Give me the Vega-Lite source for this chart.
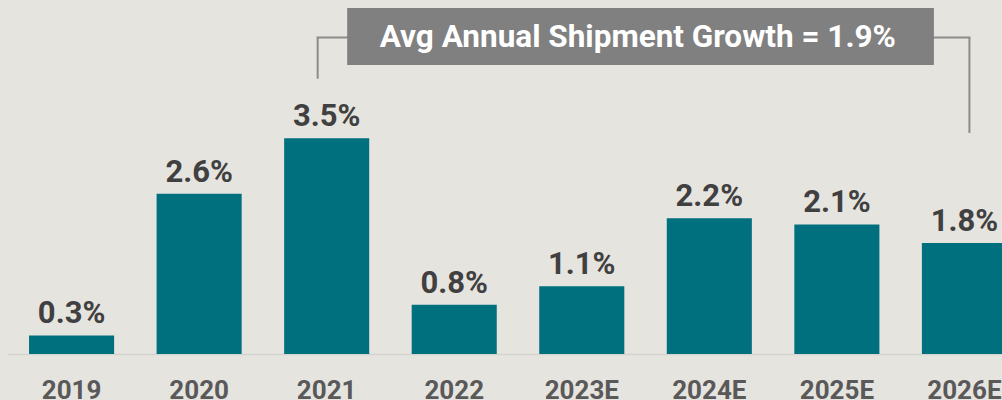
{
  "$schema": "https://vega.github.io/schema/vega-lite/v6.json",
  "width": 994,
  "height": 354,
  "autosize": "none",
  "padding": {"left": 8, "top": 0, "right": 0, "bottom": 46},
  "background": "#e6e4df",
  "config": {
    "view": {"stroke": null},
    "font": "Roboto",
    "text": {"font": "Roboto"}
  },
  "layer": [
    {
      "data": {"values": [
        {"year": "2019", "growth": 0.3, "label": "0.3%"},
        {"year": "2020", "growth": 2.6, "label": "2.6%"},
        {"year": "2021", "growth": 3.5, "label": "3.5%"},
        {"year": "2022", "growth": 0.8, "label": "0.8%"},
        {"year": "2023E", "growth": 1.1, "label": "1.1%"},
        {"year": "2024E", "growth": 2.2, "label": "2.2%"},
        {"year": "2025E", "growth": 2.1, "label": "2.1%"},
        {"year": "2026E", "growth": 1.8, "label": "1.8%"}
      ]},
      "layer": [
        {
          "mark": {"type": "bar", "color": "#00707f"},
          "encoding": {
            "x": {
              "field": "year", "type": "nominal", "sort": null, "title": null,
              "scale": {"range": [0, 1020], "paddingInner": 0.333, "paddingOuter": 0.165},
              "axis": {
                "labelAngle": 0, "ticks": false, "tickSize": 0, "labelPadding": 44,
                "labelBaseline": "alphabetic", "labelFontSize": 26, "labelFontWeight": "bold",
                "labelColor": "#595959", "labelFont": "Roboto",
                "domainColor": "#d6d4cf", "domainWidth": 1.5, "grid": false
              }
            },
            "y": {
              "field": "growth", "type": "quantitative",
              "scale": {"domain": [0, 5.74], "nice": false, "zero": true},
              "axis": null
            }
          }
        },
        {
          "mark": {"type": "text", "baseline": "alphabetic", "dy": -12, "fontSize": 31, "fontWeight": "bold", "color": "#404040", "font": "Roboto"},
          "encoding": {
            "x": {"field": "year", "type": "nominal", "sort": null},
            "y": {"field": "growth", "type": "quantitative"},
            "text": {"field": "label"}
          }
        }
      ]
    },
    {
      "data": {"values": [
        {"x1": "2021", "x2": "2026E", "ya": 5.13}
      ]},
      "mark": {"type": "rule", "color": "#8c8c8c", "strokeWidth": 2, "xOffset": -10, "x2Offset": 6},
      "encoding": {
        "x": {"field": "x1", "type": "nominal", "sort": null},
        "x2": {"field": "x2"},
        "y": {"field": "ya", "type": "quantitative"}
      }
    },
    {
      "data": {"values": [
        {"xv": "2021", "top": 5.13, "bottom": 4.464},
        {"xv": "2026E", "top": 5.13, "bottom": 3.583}
      ]},
      "layer": [
        {
          "transform": [{"filter": "datum.xv == '2021'"}],
          "mark": {"type": "rule", "color": "#8c8c8c", "strokeWidth": 2, "xOffset": -9},
          "encoding": {
            "x": {"field": "xv", "type": "nominal", "sort": null},
            "y": {"field": "top", "type": "quantitative"},
            "y2": {"field": "bottom"}
          }
        },
        {
          "transform": [{"filter": "datum.xv == '2026E'"}],
          "mark": {"type": "rule", "color": "#8c8c8c", "strokeWidth": 2, "xOffset": 5},
          "encoding": {
            "x": {"field": "xv", "type": "nominal", "sort": null},
            "y": {"field": "top", "type": "quantitative"},
            "y2": {"field": "bottom"}
          }
        }
      ]
    },
    {
      "data": {"values": [
        {"x1": "2021", "x2": "2026E", "yb": 5.148}
      ]},
      "mark": {"type": "rule", "color": "#808080", "strokeWidth": 57, "strokeCap": "butt", "xOffset": 20.5, "x2Offset": -30.5},
      "encoding": {
        "x": {"field": "x1", "type": "nominal", "sort": null},
        "x2": {"field": "x2"},
        "y": {"field": "yb", "type": "quantitative"}
      }
    },
    {
      "data": {"values": [
        {"xt": "2023E", "yt": 4.983, "txt": "Avg Annual Shipment Growth = 1.9%"}
      ]},
      "mark": {"type": "text", "baseline": "alphabetic", "align": "center", "dx": 56, "fontSize": 31.5, "fontWeight": "bold", "color": "#ffffff", "font": "Roboto"},
      "encoding": {
        "x": {"field": "xt", "type": "nominal", "sort": null},
        "y": {"field": "yt", "type": "quantitative"},
        "text": {"field": "txt"}
      }
    }
  ]
}
